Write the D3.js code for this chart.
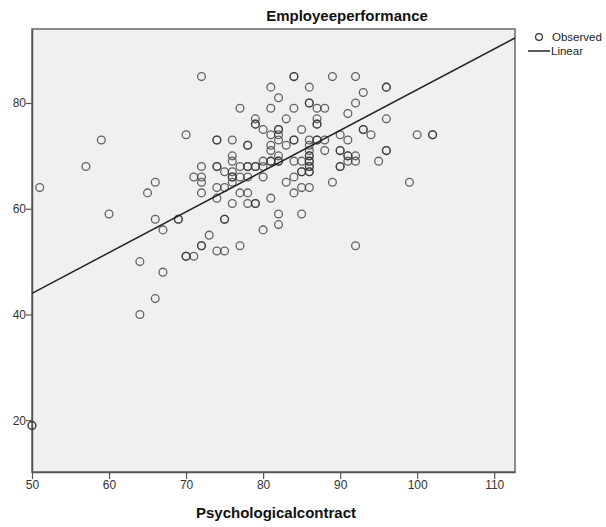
<!DOCTYPE html>
<html>
<head>
<meta charset="utf-8">
<script src="https://cdn.jsdelivr.net/npm/d3@7"></script>
<style>
  body { margin: 0; background: #fff; }
  text { font-family: "Liberation Sans", Arial, sans-serif; }
</style>
</head>
<body>
<div id="chart"></div>
<script>
// observed points (Psychologicalcontract, Employeeperformance)
var contract = [50,50,51,57,59,60,64,64,65,66,66,66,67,67,69,69,70,70,70,71,71,
  72,72,72,72,72,72,72,73,74,74,74,74,74,74,74,75,75,75,75,75,76,76,76,76,76,76,76,76,
  77,77,77,77,77,78,78,78,78,78,78,78,79,79,79,79,79,79,79,80,80,80,80,80,
  81,81,81,81,81,81,81,81,82,82,82,82,82,82,82,82,82,82,83,83,83,
  84,84,84,84,84,84,84,84,85,85,85,85,85,85,86,86,86,86,86,86,86,86,86,86,86,86,86,86,86,
  87,87,87,87,87,87,88,88,88,89,89,90,90,90,90,90,91,91,91,91,91,92,92,92,92,92,
  93,93,93,94,95,96,96,96,96,96,99,100,102,102];
var performance = [19,19,64,68,73,59,50,40,63,65,58,43,56,48,58,58,74,51,51,51,66,
  85,68,66,65,63,53,53,55,73,73,68,68,64,62,52,67,64,58,58,52,73,70,69,67,66,66,65,61,
  79,68,66,63,53,72,72,68,68,66,63,61,77,76,76,68,68,61,61,75,69,68,66,56,
  83,79,74,72,71,69,69,62,81,75,75,74,73,70,69,69,59,57,77,72,65,
  85,85,79,73,73,69,66,63,75,69,67,67,64,59,83,80,80,73,72,71,70,70,69,69,68,68,67,67,64,
  79,77,76,76,73,73,79,73,71,85,65,74,71,71,68,68,78,73,70,70,69,85,80,70,69,53,
  82,75,75,74,69,83,83,77,71,71,65,74,74,74];

// linear fit
var fitX = [50, 112.7];
var fitY = [44.0, 92.3];

var xTicks = [50, 60, 70, 80, 90, 100, 110];
var yTicks = [20, 40, 60, 80];

(function() {
  var width = 606, height = 527;
  var mLeft = 32, mRight = 515, mTop = 29, mBottom = 472;

  var svg = d3.select("#chart").append("svg")
    .attr("width", width)
    .attr("height", height);

  var x = d3.scaleLinear().domain([50, 112.7]).range([mLeft, mRight]);
  var y = d3.scaleLinear().domain([10.2, 94.0]).range([mBottom, mTop]);

  svg.append("rect")
    .attr("x", mLeft).attr("y", mTop)
    .attr("width", mRight - mLeft).attr("height", mBottom - mTop)
    .attr("fill", "#f0f0f0")
    .attr("stroke", "#666")
    .attr("stroke-width", 1.5);

  var xAxis = svg.append("g")
    .attr("transform", "translate(0," + mBottom + ")")
    .call(d3.axisBottom(x).tickValues(xTicks).tickSize(7).tickSizeOuter(0));
  var yAxis = svg.append("g")
    .attr("transform", "translate(" + mLeft + ",0)")
    .call(d3.axisLeft(y).tickValues(yTicks).tickSize(6).tickSizeOuter(0));

  [xAxis, yAxis].forEach(function(g) {
    g.select(".domain").attr("stroke", "#555").attr("stroke-width", 1.5);
    g.selectAll(".tick line").attr("stroke", "#555").attr("stroke-width", 1.2);
    g.selectAll(".tick text")
      .attr("fill", "#333")
      .style("font-size", "12px")
      .style("font-family", "'Liberation Sans', Arial, sans-serif");
  });
  xAxis.selectAll(".tick text").attr("dy", "0.95em").attr("y", 6);
  yAxis.selectAll(".tick text").attr("x", -6);

  var pts = contract.map(function(d, i) { return {x: d, y: performance[i]}; });

  svg.append("g").selectAll("circle")
    .data(pts)
    .enter().append("circle")
    .attr("cx", function(d) { return x(d.x); })
    .attr("cy", function(d) { return y(d.y); })
    .attr("r", 3.9)
    .attr("fill", "none")
    .attr("stroke", "#333")
    .attr("stroke-opacity", 0.75)
    .attr("stroke-width", 1.3);

  svg.append("line")
    .attr("x1", x(fitX[0])).attr("y1", y(fitY[0]))
    .attr("x2", x(fitX[1])).attr("y2", y(fitY[1]))
    .attr("stroke", "#222")
    .attr("stroke-width", 1.5);

  svg.append("text")
    .attr("x", 347).attr("y", 21)
    .attr("text-anchor", "middle")
    .attr("font-weight", "bold")
    .style("font-size", "15px")
    .attr("fill", "#111")
    .text("Employeeperformance");

  svg.append("text")
    .attr("x", 276).attr("y", 518)
    .attr("text-anchor", "middle")
    .attr("font-weight", "bold")
    .style("font-size", "15px")
    .attr("fill", "#111")
    .text("Psychologicalcontract");

  // legend
  var legend = svg.append("g");
  legend.append("circle")
    .attr("cx", 539).attr("cy", 37).attr("r", 3.4)
    .attr("fill", "none").attr("stroke", "#333").attr("stroke-width", 1.2);
  legend.append("text")
    .attr("x", 552).attr("y", 41)
    .style("font-size", "11.5px").attr("fill", "#222")
    .text("Observed");
  legend.append("line")
    .attr("x1", 528).attr("x2", 550).attr("y1", 51).attr("y2", 51)
    .attr("stroke", "#222").attr("stroke-width", 1.5);
  legend.append("text")
    .attr("x", 551).attr("y", 55)
    .style("font-size", "11.5px").attr("fill", "#222")
    .text("Linear");
})();
</script>
</body>
</html>
